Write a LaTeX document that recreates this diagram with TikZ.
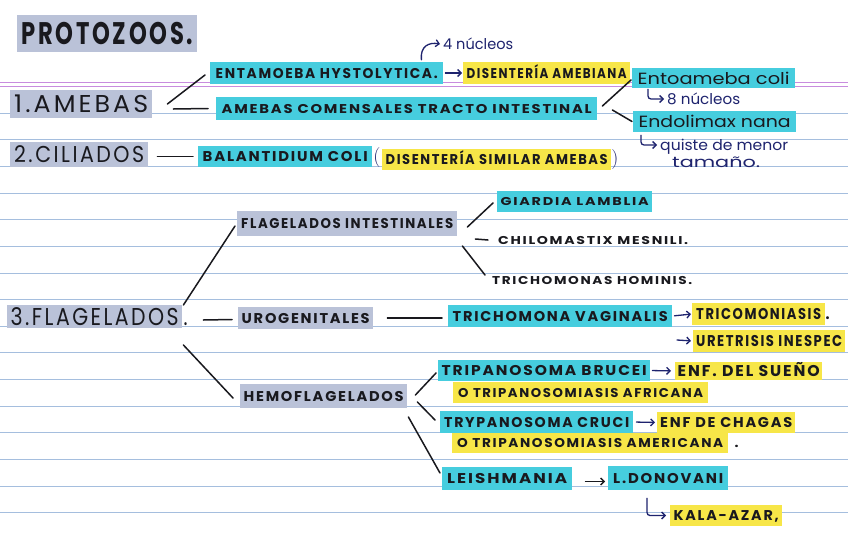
\documentclass[tikz,border=0pt]{standalone}
\usepackage{fontspec}
\usepackage{graphicx}
\newfontfamily\hand[LetterSpace=12]{Poppins}
\newfontfamily\navyfont{Poppins}
\usetikzlibrary{arrows.meta}
\definecolor{cyanhl}{RGB}{70,205,222}
\definecolor{yellowhl}{RGB}{247,230,72}
\definecolor{grayhl}{RGB}{186,194,216}
\definecolor{rulecol}{RGB}{165,190,222}
\definecolor{purp}{RGB}{200,140,222}
\definecolor{navy}{RGB}{30,35,110}
\definecolor{ink}{RGB}{25,25,30}
\newcommand{\fitt}[3]{\resizebox{#1pt}{#2pt}{\hand\bfseries\raisebox{0pt}[\fontcharht\font`A][0pt]{#3}}}
\newcommand{\fitr}[3]{\resizebox{#1pt}{#2pt}{\hand\raisebox{0pt}[\fontcharht\font`A][0pt]{#3}}}
\newcommand{\fitn}[3]{\resizebox{#1pt}{#2pt}{\navyfont\raisebox{0pt}[\fontcharht\font`l][0pt]{#3}}}
\tikzset{
  hl/.style={rectangle, inner sep=0pt, anchor=west, text=ink},
  hc/.style={hl, fill=cyanhl},
  hy/.style={hl, fill=yellowhl},
  hg/.style={hl, fill=grayhl},
  plain/.style={hl},
  box/.style 2 args={minimum width=#1pt, minimum height=#2pt},
  con/.style={draw=ink, line width=1.5pt, line cap=round},
  arr/.style={draw=navy, line width=1.3pt, line cap=round, -{Straight Barb[length=3.5pt,width=7pt]}},
  rulel/.style={draw=rulecol, line width=0.8pt},
  purpl/.style={draw=purp, line width=1pt},
}
\begin{document}
\begin{tikzpicture}[x=1pt,y=-1pt]
\fill[white] (0,0) rectangle (848,533);
\useasboundingbox (0,0) rectangle (848,533);
% ruled paper
\foreach \k in {0,...,15} \draw[rulel] (0,{113+26.65*\k}) -- (848,{113+26.65*\k});
\draw[purpl] (0,82.5) -- (848,82.5);
\draw[purpl] (0,86) -- (848,86);

% title
\node[hg,box={180}{37}] (title) at (17,33.5) {\resizebox{172pt}{22pt}{\hand\bfseries\raisebox{0pt}[\fontcharht\font`A][0pt]{PROTOZOOS.}}};

% 1. amebas
\node[hg,box={142}{28}] (amebas) at (10,104) {\fitr{134}{17}{1.AMEBAS}};
\node[hc,box={233}{22}] (eh) at (210,73) {\fitt{222}{10}{ENTAMOEBA HYSTOLYTICA.}};
\node[hy,box={167}{22}] (da) at (463,73) {\fitt{160}{10}{DISENTERÍA AMEBIANA}};
\node[plain,text=navy] (n4) at (443,44) {\fitn{70}{11}{4 núcleos}};
\node[hc,box={381}{23}] (ac) at (216,108.5) {\fitt{370}{9}{AMEBAS COMENSALES TRACTO INTESTINAL}};
\node[hc,box={163}{20}] (ec) at (632,78) {\fitn{152}{12}{Entoameba coli}};
\node[hc,box={163}{21}] (en) at (633,121.5) {\fitn{152}{12}{Endolimax nana}};
\node[plain,text=navy] (n8) at (667,99) {\fitn{73}{11}{8 núcleos}};
\node[plain,text=navy] (q1) at (660,145) {\fitn{128}{11}{quiste de menor}};
\node[plain,text=navy] (q2) at (672,162) {\fitn{88}{11}{tamaño.}};

\draw[con] ([xshift=15pt]amebas.east) -- ([xshift=-5pt,yshift=-2pt]eh.west);
\draw[con] ([xshift=21pt,yshift=-5pt]amebas.east) -- ([xshift=-8pt]ac.west);
\draw[arr, shorten <=2pt, shorten >=1pt] (eh.east) -- (da.west);
\draw[arr] ([xshift=-22pt,yshift=2pt]eh.north east) .. controls ([xshift=-23pt,yshift=-2pt]n4.west) and ([xshift=-14pt,yshift=2pt]n4.west) .. ([xshift=-3pt]n4.west);
\draw[con] ([xshift=5pt,yshift=2.5pt]ac.east) -- ([xshift=-1pt,yshift=-2pt]ec.west);
\draw[con] ([xshift=15pt,yshift=-1.5pt]ac.east) -- ([xshift=-1pt]en.west);
\draw[arr, rounded corners=3pt] ([xshift=16pt,yshift=-1pt]ec.south west) |- ([xshift=-3pt]n8.west);
\draw[arr, rounded corners=3pt] ([xshift=8pt,yshift=-3pt]en.south west) |- ([xshift=-3pt]q1.west);

% 2. ciliados
\node[hg,box={138}{25}] (cil) at (10,154.5) {\fitr{130}{16}{2.CILIADOS}};
\node[hc,box={174}{21}] (bc) at (198,156.5) {\fitt{165}{10}{BALANTIDIUM COLI}};
\node[hy,box={229}{21}] (ds) at (382,159.5) {\fitt{222}{10}{DISENTERÍA SIMILAR AMEBAS}};
\node[text=navy,font=\fontsize{20}{20}\selectfont,inner sep=0pt] (lp) at (377,158) {(};
\node[text=navy,font=\fontsize{20}{20}\selectfont,inner sep=0pt] (rp) at (615,160) {)};
\draw[con] ([xshift=9pt,yshift=-2pt]cil.east) -- ([xshift=-5pt]bc.west);

% 3. flagelados
\node[hg,box={175}{23}] (fl) at (7,316.5) {\fitr{168}{17}{3.FLAGELADOS}};
\node[plain,box={5}{17}] (fld) at (183,316.5) {\fitr{4}{17}{.}};
\node[hg,box={220}{25}] (fi) at (237,223.5) {\fitt{212}{10}{FLAGELADOS INTESTINALES}};
\node[hc,box={155}{21}] (gl) at (497,201.5) {\fitt{148}{8}{GIARDIA LAMBLIA}};
\node[plain] (cm) at (498,240) {\fitt{190}{8}{CHILOMASTIX MESNILI.}};
\node[plain] (th) at (492,280) {\fitt{200}{8}{TRICHOMONAS HOMINIS.}};

\node[hg,box={135}{22}] (ug) at (238,318) {\fitt{128}{10}{UROGENITALES}};
\node[hc,box={224}{22}] (tv) at (448,316) {\fitt{215}{10}{TRICHOMONA VAGINALIS}};
\node[hy,box={133}{22}] (tr) at (692,314) {\fitt{125}{11}{TRICOMONIASIS}};
\node[plain,box={5}{11}] (trd) at (825,314) {\fitt{4}{11}{.}};
\coordinate (ua) at (677,340);
\node[hy,box={152}{22}] (ue) at (693,341) {\fitt{146}{11}{URETRISIS INESPEC}};

\node[hg,box={167}{24}] (hf) at (240,396) {\fitt{160}{10}{HEMOFLAGELADOS}};
\node[hc,box={212}{21}] (tb) at (438,370.5) {\fitt{205}{10}{TRIPANOSOMA BRUCEI}};
\node[hy,box={147}{18}] (es) at (675,371) {\fitt{142}{11}{ENF. DEL SUEÑO}};
\node[hy,box={255}{21}] (ta) at (453,392.5) {\fitt{245}{9}{O TRIPANOSOMIASIS AFRICANA}};
\node[hc,box={193}{22}] (tc) at (440,422) {\fitt{185}{10}{TRYPANOSOMA CRUCI}};
\node[hy,box={138}{21}] (ch) at (657,422.5) {\fitt{132}{10}{ENF DE CHAGAS}};
\node[hy,box={276}{20}] (tam) at (452,443) {\fitt{266}{9}{O TRIPANOSOMIASIS AMERICANA}};
\node[plain,box={5}{9}] (tamd) at (734,443) {\fitt{4}{9}{.}};
\node[hc,box={130}{23}] (le) at (442,478.5) {\fitt{120}{10}{LEISHMANIA}};
\node[hc,box={120}{24}] (ld) at (608,478) {\fitt{110}{10}{L.DONOVANI}};
\node[hy,box={112}{21}] (ka) at (670,515.5) {\fitt{105}{10}{KALA-AZAR,}};

\draw[con] ([xshift=1pt,yshift=11.5pt]fl.east) -- ([xshift=-2pt,yshift=-2.5pt]fi.west);
\draw[con] ([xshift=21pt,yshift=-3.5pt]fl.east) -- ([xshift=-6pt,yshift=-1.5pt]ug.west);
\draw[con] ([xshift=1pt,yshift=-28.5pt]fl.east) -- ([xshift=-7pt,yshift=-2pt]hf.west);

\draw[con] ([xshift=10pt,yshift=-3.5pt]fi.east) -- ([xshift=-4pt,yshift=-1.5pt]gl.west);
\draw[con] ([xshift=18pt,yshift=-15.5pt]fi.east) -- ([xshift=-10pt]cm.west);
\draw[con] ([xshift=5pt,yshift=-22.5pt]fi.east) -- ([xshift=-7pt,yshift=5pt]th.west);

\draw[con] ([xshift=14pt]ug.east) -- ([xshift=-6pt,yshift=-2pt]tv.west);
\draw[arr, shorten <=2pt, shorten >=1pt] (tv.east) -- (tr.west);
\draw[arr, shorten >=2pt] (ua) -- (ue.west);

\draw[con] ([xshift=8pt,yshift=1pt]hf.east) -- ([xshift=-2pt,yshift=-2.5pt]tb.west);
\draw[con] ([xshift=10pt,yshift=-6pt]hf.east) -- ([xshift=-5pt,yshift=2pt]tc.west);
\draw[con] ([xshift=1pt,yshift=-21pt]hf.east) -- ([xshift=-2pt,yshift=5.5pt]le.west);
\draw[arr, shorten <=2pt, shorten >=4pt] (tb.east) -- (es.west);
\draw[arr, shorten <=3pt, shorten >=2pt] (tc.east) -- (ch.west);
\draw[con, line width=1.3pt, -{Straight Barb[length=3.5pt,width=7pt]}] ([xshift=13pt,yshift=-3pt]le.east) -- ([xshift=-3pt,yshift=-3.5pt]ld.west);
\draw[arr, rounded corners=3pt] ([xshift=39pt,yshift=-8pt]ld.south west) |- ([xshift=-4pt]ka.west);
\end{tikzpicture}
\end{document}
